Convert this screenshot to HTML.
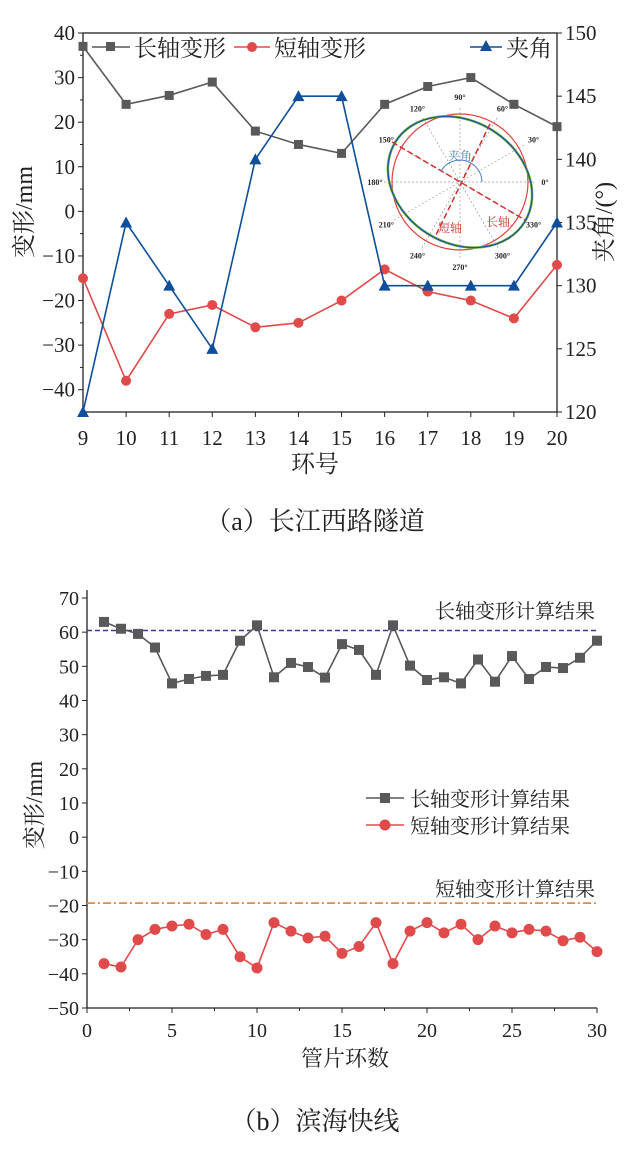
<!DOCTYPE html>
<html><head><meta charset="utf-8"><style>
body{margin:0;background:#fff;}
svg{display:block;font-family:"Liberation Serif","Noto Serif CJK SC",serif;}
</style></head><body>
<svg id="s" width="630" height="1157" viewBox="0 0 630 1157"></svg>
<script>
const topRings=[9,10,11,12,13,14,15,16,17,18,19,20];
const topLong=[37,24,26,29,18,15,13,24,28,30,24,19];
const topShort=[-15,-38,-23,-21,-26,-25,-20,-13,-18,-20,-24,-12];
const topAngle=[120,135,130,125,140,145,145,130,130,130,130,135];
const topYTicks=[40,30,20,10,0,-10,-20,-30,-40];
const topRTicks=[150,145,140,135,130,125,120];
const botLong=[63,61,59.5,55.5,45,46.3,47.2,47.5,57.5,62,46.8,51,49.8,46.7,56.5,54.8,47.5,62,50.2,46,46.8,45,52,45.5,53,46.3,49.8,49.5,52.5,57.5];
const botShort=[-37,-38,-30,-27,-26,-25.5,-28.5,-27,-35,-38.3,-25,-27.5,-29.5,-29,-34,-32,-25,-37,-27.5,-25,-28,-25.5,-30,-26,-28,-27,-27.5,-30.3,-29.3,-33.5];
const botYTicks=[70,60,50,40,30,20,10,0,-10,-20,-30,-40,-50];
const botXTicks=[0,5,10,15,20,25,30];
const longCalc=60.5, shortCalc=-19.3;

const S=document.getElementById('s');const NS='http://www.w3.org/2000/svg';
function el(t,a,txt){const e=document.createElementNS(NS,t);for(const k in a)e.setAttribute(k,a[k]);if(txt!==undefined)e.textContent=txt;S.appendChild(e);return e;}
function txt(x,y,s,size,anchor,fill,name,extra){const e=el('text',Object.assign({x:x,y:y,'font-size':size,'text-anchor':anchor||'middle',fill:fill||'#222'},extra||{}),s);

return e;}
// ---------- TOP chart
const L=83,R=557,T=33,B=412;
const tx=v=>L+(v-9)/(20-9)*(R-L);
const ty=v=>T+(40-v)/85*(B-T);
const tr=v=>T+(150-v)/30*(B-T);
let f=el('rect',{x:L,y:T,width:R-L,height:B-T,fill:'none',stroke:'#222','stroke-width':1.3});


topYTicks.forEach(v=>{const y=ty(v);el('line',{x1:L,x2:L-5,y1:y,y2:y,stroke:'#222'});txt(L-8,y+7,v<0?'−'+(-v):String(v),21,'end','#222','left-tick-label');});
for(let v=35;v>-45;v-=10){const y=ty(v);el('line',{x1:L,x2:L-3,y1:y,y2:y,stroke:'#222'});}
topRTicks.forEach(v=>{const y=tr(v);el('line',{x1:R,x2:R+5,y1:y,y2:y,stroke:'#222'});txt(R+8,y+7,String(v),21,'start','#222','right-tick-label');});
topRings.forEach(v=>{const x=tx(v);el('line',{x1:x,x2:x,y1:B,y2:B+5,stroke:'#222'});txt(x,B+33,String(v),21,'middle','#222','x-tick-label');});
txt(315,472,'环号',24,'middle','#222','x-axis-title');
txt(32,212,'变形/mm',24,'middle','#222','left-axis-title',{transform:'rotate(-90 32 212)'});
txt(612,222,'夹角/(°)',24,'middle','#222','right-axis-title',{transform:'rotate(-90 612 222)'});
// inset
const cx=460,cy=182,r=68;
[0,30,60,90,120,150].forEach(a=>{const c=Math.cos(a*Math.PI/180)*(r+8),s=Math.sin(a*Math.PI/180)*(r+8);el('line',{x1:cx-c,y1:cy+s,x2:cx+c,y2:cy-s,stroke:'#999','stroke-width':0.7,'stroke-dasharray':'2,2'});});
[0,30,60,90,120,150,180,210,240,270,300,330].forEach(a=>{const rr=r+17;txt(cx+Math.cos(a*Math.PI/180)*rr,cy-Math.sin(a*Math.PI/180)*rr+3,a+'°',8,'middle','#222','polar-angle-label',{'font-weight':'bold'});});
let c1=el('circle',{cx:cx,cy:cy,r:r,fill:'none',stroke:'#e04040','stroke-width':1.2});
let e1=el('ellipse',{cx:cx,cy:cy,rx:76,ry:61,fill:'none',stroke:'#6ab040','stroke-width':2.5,transform:`rotate(32 ${cx} ${cy})`});
let e2=el('ellipse',{cx:cx,cy:cy,rx:76,ry:61,fill:'none',stroke:'#2050a0','stroke-width':1.2,transform:`rotate(32 ${cx} ${cy})`});
el('line',{x1:cx-68,y1:cy-40,x2:cx+65,y2:cy+38,stroke:'#d03030','stroke-width':1.5,'stroke-dasharray':'6,3'});
el('line',{x1:cx+30,y1:cy-58,x2:cx-25,y2:cy+55,stroke:'#d03030','stroke-width':1.5,'stroke-dasharray':'6,3'});
el('path',{d:`M${cx+22} ${cy} A22 22 0 0 0 ${cx-19} ${cy-11}`,fill:'none',stroke:'#4a80c0','stroke-width':1});
txt(cx,cy-22,'夹角',12,'middle','#4a80c0','inset-angle-label');
txt(cx-10,cy+50,'短轴',12,'middle','#d03030','inset-short-label');
txt(cx+38,cy+44,'长轴',12,'middle','#d03030','inset-long-label');
function series(xs,ys,fx,fy,color,mk,name,sz){
  let p=el('polyline',{points:xs.map((v,i)=>fx(v)+','+fy(ys[i])).join(' '),fill:'none',stroke:color,'stroke-width':1.6});
  
  
  xs.forEach((v,i)=>{const x=fx(v),y=fy(ys[i]);let m;
    if(mk==='sq')m=el('rect',{x:x-sz,y:y-sz,width:2*sz,height:2*sz,fill:color});
    else if(mk==='ci')m=el('circle',{cx:x,cy:y,r:sz,fill:color});
    else m=el('polygon',{points:`${x},${y-sz-1} ${x-sz-1},${y+sz} ${x+sz+1},${y+sz}`,fill:color});
    
    });
}
series(topRings,topLong,tx,ty,'#595959','sq','top-long',4.5);
series(topRings,topShort,tx,ty,'#e04a4a','ci',  'top-short',5);
series(topRings,topAngle,tx,tr,'#0e4e9a','tri','top-angle',5);
// top legend
el('line',{x1:92,x2:130,y1:47,y2:47,stroke:'#595959','stroke-width':1.6});el('rect',{x:106,y:42,width:9,height:9,fill:'#595959'});
txt(134,56,'长轴变形',23,'start','#222','legend-long');
el('line',{x1:234,x2:270,y1:47,y2:47,stroke:'#e04a4a','stroke-width':1.6});el('circle',{cx:252,cy:47,r:5,fill:'#e04a4a'});
txt(274,56,'短轴变形',23,'start','#222','legend-short');
el('line',{x1:470,x2:502,y1:47,y2:47,stroke:'#0e4e9a','stroke-width':1.6});el('polygon',{points:'486,40 480,51 492,51',fill:'#0e4e9a'});
txt(506,56,'夹角',23,'start','#222','legend-angle');
txt(315,530,'（a）长江西路隧道',26,'middle','#222','caption-a');
// ---------- BOTTOM chart
const bL=87,bR=597,bT=598,bB=1008;
const bx=v=>bL+v/30*(bR-bL);
const by=v=>bT+(70-v)/120*(bB-bT);
el('line',{x1:bL,y1:bT-8,x2:bL,y2:bB,stroke:'#222','stroke-width':1.3});
el('line',{x1:bL,y1:bB,x2:bR,y2:bB,stroke:'#222','stroke-width':1.3});
botYTicks.forEach(v=>{const y=by(v);el('line',{x1:bL,x2:bL-5,y1:y,y2:y,stroke:'#222'});txt(bL-8,y+7,v<0?'−'+(-v):String(v),20,'end','#222','bottom-y-tick-label');});
botXTicks.forEach(v=>{const x=bx(v);el('line',{x1:x,x2:x,y1:bB,y2:bB+5,stroke:'#222'});txt(x,bB+29,String(v),20,'middle','#222','bottom-x-tick-label');});
for(let v=2.5;v<30;v+=5){const x=bx(v);el('line',{x1:x,x2:x,y1:bB,y2:bB+3,stroke:'#222'});}
txt(345,1066,'管片环数',22,'middle','#222','bottom-x-axis-title');
txt(42,805,'变形/mm',23,'middle','#222','bottom-y-axis-title',{transform:'rotate(-90 42 805)'});
el('line',{x1:bL,x2:bR,y1:by(longCalc),y2:by(longCalc),stroke:'#3a3a9a','stroke-width':1.5,'stroke-dasharray':'5,3'});
el('line',{x1:bL,x2:bR,y1:by(shortCalc),y2:by(shortCalc),stroke:'#e8883a','stroke-width':1.8,'stroke-dasharray':'8,3,2,3'});
txt(595,618,'长轴变形计算结果',20,'end','#222','long-calc-label');
txt(595,896,'短轴变形计算结果',20,'end','#222','short-calc-label');
const idx=botLong.map((_,i)=>i+1);
series(idx,botLong,bx,by,'#595959','sq','bottom-long',5);
series(idx,botShort,bx,by,'#e04a4a','ci','bottom-short',5.5);
el('line',{x1:366,x2:404,y1:798,y2:798,stroke:'#595959','stroke-width':1.6});el('rect',{x:380,y:793,width:10,height:10,fill:'#595959'});
txt(410,806,'长轴变形计算结果',20,'start','#222','legend-long-calc');
el('line',{x1:366,x2:404,y1:825,y2:825,stroke:'#e04a4a','stroke-width':1.6});el('circle',{cx:385,cy:825,r:5.5,fill:'#e04a4a'});
txt(410,833,'短轴变形计算结果',20,'start','#222','legend-short-calc');
txt(315,1130,'（b）滨海快线',26,'middle','#222','caption-b');
</script>
</body></html>
